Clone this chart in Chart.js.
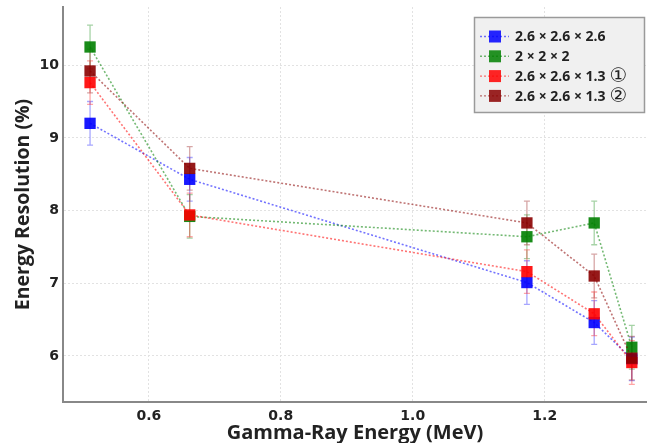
<!DOCTYPE html>
<html>
<head>
<meta charset="utf-8">
<script src="https://cdn.jsdelivr.net/npm/chart.js@4.4.1/dist/chart.umd.min.js"></script>
<style>
html, body { margin: 0; padding: 0; background: #fff; }
</style>
</head>
<body>
<canvas id="chart" width="647" height="443"></canvas>
<script>
// gamma lines (MeV)
const energies = [0.511, 0.662, 1.173, 1.275, 1.332];

// energy resolution (%) per crystal size
const res26 = [9.20, 8.43, 7.01, 6.46, 5.96];
const res2 = [10.25, 7.92, 7.64, 7.83, 6.12];
const res13a = [9.76, 7.94, 7.16, 6.58, 5.91];
const res13b = [9.92, 8.58, 7.83, 7.10, 5.97];

// error bars (+/-)
const err26 = [0.3, 0.3, 0.3, 0.3, 0.3];
const err2 = [0.3, 0.3, 0.3, 0.3, 0.3];
const err13a = [0.3, 0.3, 0.3, 0.3, 0.3];
const err13b = [0.3, 0.3, 0.3, 0.3, 0.3];

const labels = ["2.6 × 2.6 × 2.6", "2 × 2 × 2", "2.6 × 2.6 × 1.3", "2.6 × 2.6 × 1.3"];
const labelMarks = ["", "", "①", "②"];
const colors = ["0,0,255", "0,128,0", "255,0,0", "139,0,0"];

const xTicks = [0.6, 0.8, 1.0, 1.2];
const yTicks = [6, 7, 8, 9, 10];

const series = [res26, res2, res13a, res13b];
const errors = [err26, err2, err13a, err13b];

function pts(arr) {
  return arr.map((v, i) => ({ x: energies[i], y: v }));
}

const datasets = series.map((s, i) => ({
  label: labels[i] + (labelMarks[i] ? " " + labelMarks[i] : ""),
  data: pts(s),
  borderColor: "rgba(" + colors[i] + ",0.55)",
  borderWidth: 1.6,
  borderDash: [2, 2],
  pointStyle: "rect",
  pointRadius: 8,
  pointBackgroundColor: "rgba(" + colors[i] + ",0.9)",
  pointBorderColor: "rgba(" + colors[i] + ",0.9)",
  pointBorderWidth: 0,
  order: 4 - i,
  tension: 0
}));

const errorBars = {
  id: "errorBars",
  beforeDatasetsDraw(chart) {
    const ctx = chart.ctx;
    const xs = chart.scales.x, ys = chart.scales.y;
    ctx.save();
    series.forEach((s, i) => {
      ctx.strokeStyle = "rgba(" + colors[i] + ",0.35)";
      ctx.lineWidth = 1.3;
      s.forEach((v, j) => {
        const x = xs.getPixelForValue(energies[j]);
        const y1 = ys.getPixelForValue(v + errors[i][j]);
        const y2 = ys.getPixelForValue(v - errors[i][j]);
        ctx.beginPath();
        ctx.moveTo(x, y1); ctx.lineTo(x, y2);
        ctx.moveTo(x - 3, y1); ctx.lineTo(x + 3, y1);
        ctx.moveTo(x - 3, y2); ctx.lineTo(x + 3, y2);
        ctx.stroke();
      });
    });
    ctx.restore();
  }
};

const boxLegend = {
  id: "boxLegend",
  afterDraw(chart) {
    const ctx = chart.ctx;
    const bx = 474.5, by = 17.5, bw = 170, bh = 95;
    ctx.save();
    ctx.fillStyle = "#f0f0f0";
    ctx.fillRect(bx, by, bw, bh);
    ctx.strokeStyle = "#9a9a9a";
    ctx.lineWidth = 1.5;
    ctx.strokeRect(bx, by, bw, bh);
    labels.forEach((lab, i) => {
      const y = 36.5 + i * 19.8;
      ctx.strokeStyle = "rgba(" + colors[i] + ",0.55)";
      ctx.lineWidth = 1.4;
      ctx.setLineDash([2, 2]);
      ctx.beginPath();
      ctx.moveTo(480, y); ctx.lineTo(509, y);
      ctx.stroke();
      ctx.setLineDash([]);
      ctx.fillStyle = "rgba(" + colors[i] + ",0.85)";
      ctx.fillRect(489, y - 6, 12, 12);
      ctx.fillStyle = "#222";
      ctx.font = "bold 14px 'Open Sans'";
      ctx.textBaseline = "middle";
      ctx.fillText(lab, 515, y + 1);
      if (labelMarks[i]) {
        const w = ctx.measureText(lab).width;
        ctx.font = "20px 'DejaVu Sans'";
        ctx.fillText(labelMarks[i], 515 + w + 4, y + 1);
      }
    });
    ctx.restore();
  }
};

function noPad(s) {
  s.paddingTop = 0;
  s.paddingBottom = 0;
  s.paddingLeft = 0;
  s.paddingRight = 0;
}

new Chart(document.getElementById("chart").getContext("2d"), {
  type: "line",
  data: { datasets: datasets },
  plugins: [errorBars, boxLegend],
  options: {
    responsive: false,
    animation: false,
    layout: { autoPadding: false, padding: { top: 7, right: 0, left: 0, bottom: 0 } },
    plugins: {
      legend: { display: false },
      tooltip: { enabled: false }
    },
    scales: {
      x: {
        type: "linear",
        min: 0.47,
        max: 1.355,
        afterBuildTicks: s => { s.ticks = xTicks.map(v => ({ value: v })); },
        afterFit: s => { s.height = 41; noPad(s); },
        grid: { color: "#e2e2e2", lineWidth: 1, drawTicks: false },
        border: { color: "#888", width: 2, dash: [2, 2] },
        ticks: {
          padding: 6,
          color: "#222",
          font: { family: "DejaVu Sans", weight: "bold", size: 14 },
          callback: v => v.toFixed(1)
        },
        title: {
          display: true,
          text: "Gamma-Ray Energy (MeV)",
          color: "#222",
          padding: { top: 0, bottom: 0 },
          font: { family: "Open Sans", weight: "bold", size: 20, lineHeight: 1 }
        }
      },
      y: {
        min: 5.367,
        max: 10.8,
        afterBuildTicks: s => { s.ticks = yTicks.map(v => ({ value: v })); },
        afterFit: s => { s.width = 63; noPad(s); },
        grid: { color: "#e2e2e2", lineWidth: 1, drawTicks: false },
        border: { color: "#888", width: 2, dash: [2, 2] },
        ticks: {
          padding: 4,
          color: "#222",
          font: { family: "DejaVu Sans", weight: "bold", size: 14 }
        },
        title: {
          display: true,
          text: "Energy Resolution (%)",
          color: "#222",
          padding: { top: 12, bottom: 0 },
          font: { family: "Open Sans", weight: "bold", size: 19.5, lineHeight: 1.2 }
        }
      }
    }
  }
});
</script>
</body>
</html>
